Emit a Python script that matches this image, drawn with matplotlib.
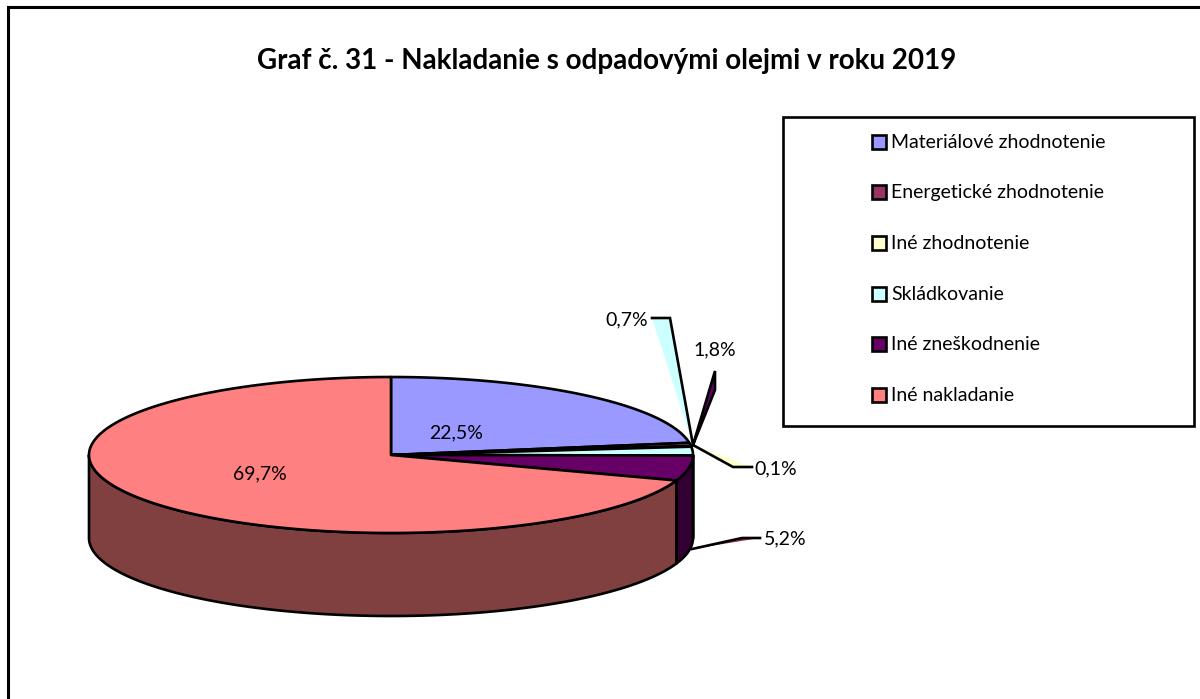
import numpy as np
import matplotlib
matplotlib.use("Agg")
import matplotlib.pyplot as plt
from matplotlib.patches import Polygon, Rectangle

# data
title = "Graf č. 31 - Nakladanie s odpadovými olejmi v roku 2019"
categories = ["Materiálové zhodnotenie", "Energetické zhodnotenie", "Iné zhodnotenie",
              "Skládkovanie", "Iné zneškodnenie", "Iné nakladanie"]
values = [22.5, 0.7, 0.1, 1.8, 5.2, 69.7]
value_labels = ["22,5%", "0,7%", "0,1%", "1,8%", "5,2%", "69,7%"]

# style
colors = ["#9999FF", "#993366", "#FFFFCC", "#CCFFFF", "#660066", "#FF8080"]
side_colors = ["#4D4D80", "#4D1A33", "#808066", "#668080", "#330033", "#804040"]
plt.rcParams["font.family"] = ["Lato", "DejaVu Sans"]
CX, CY, RX, RY, DEPTH = 391, 455, 302, 78, 83
LW = 1.9
FS = 14.0

fig = plt.figure(figsize=(12, 6.99), dpi=100)
ax = fig.add_axes([0, 0, 1, 1])
ax.set_xlim(0, 1200)
ax.set_ylim(699, 0)
ax.axis("off")

# chart frame (open to the right and the bottom of the picture)
ax.plot([8, 8, 1200], [699, 7, 7], color="black", lw=2.2, solid_joinstyle="miter", zorder=1)


def arc(a0, a1, dy=0.0):
    t = np.radians(np.linspace(a0, a1, max(int(abs(a1 - a0) * 2), 2)))
    return np.c_[CX + RX * np.sin(t), CY + dy - RY * np.cos(t)]


edges = np.concatenate([[0], np.cumsum(values) / sum(values) * 360])

# side wall
for i in range(len(values)):
    a0, a1 = max(edges[i], 90), min(edges[i + 1], 270)
    if a1 > a0:
        top = arc(a0, a1)
        bottom = arc(a0, a1, DEPTH)
        ax.add_patch(Polygon(np.r_[top, bottom[::-1]], closed=True, fc=side_colors[i],
                             ec="black", lw=LW, joinstyle="round", zorder=2))

# top face
for i in range(len(values)):
    pts = np.r_[[[CX, CY]], arc(edges[i], edges[i + 1])]
    ax.add_patch(Polygon(pts, closed=True, fc=colors[i], ec="black", lw=LW,
                         joinstyle="round", zorder=3))

# value labels inside the pie
ax.text(456, 432.5, value_labels[0], ha="center", va="center", fontsize=FS, zorder=6)
ax.text(260, 473.5, value_labels[5], ha="center", va="center", fontsize=FS, zorder=6)

# leader wedges with their labels: (fill, polygon, outlined path, label, label position)
HUB = (693, 445)
leaders = [
    (colors[3], [HUB, (670, 318), (652, 318)], [HUB, (670, 318), (652, 318)],
     value_labels[1], (627, 319.5)),
    (colors[4], [HUB, (715, 390), (715, 371)], [HUB, (715, 371), (715, 390), HUB],
     value_labels[3], (715, 349.5)),
    (colors[2], [HUB, (733, 467), (752, 467)], [HUB, (733, 467), (752, 467)],
     value_labels[2], (776, 468.5)),
    (colors[1], [(692, 549), (742, 538), (760, 538)], [(692, 549), (742, 538), (760, 538)],
     value_labels[4], (785, 538.5)),
]
for fill, poly, line, label, (tx, ty) in leaders:
    ax.add_patch(Polygon(poly, closed=True, fc=fill, ec="none", zorder=4))
    xs, ys = zip(*line)
    ax.plot(xs, ys, color="black", lw=LW, solid_joinstyle="miter", zorder=5)
    ax.text(tx, ty, label, ha="center", va="center", fontsize=FS, zorder=6)

# title
ax.text(607, 61, title, ha="center", va="center", fontsize=20, fontweight="bold", zorder=6)

# legend
ax.add_patch(Rectangle((783, 117), 411, 309, fc="white", ec="black", lw=LW, zorder=4))
row_y = [141.5, 192, 243, 294, 344, 395]
for name, c, y in zip(categories, colors, row_y):
    ax.add_patch(Rectangle((872, y - 7), 14, 14, fc=c, ec="black", lw=LW, zorder=5))
    ax.text(891, y + 0.5, name, ha="left", va="center", fontsize=FS, zorder=6)

fig.savefig("out.png", dpi=100, facecolor="white")
